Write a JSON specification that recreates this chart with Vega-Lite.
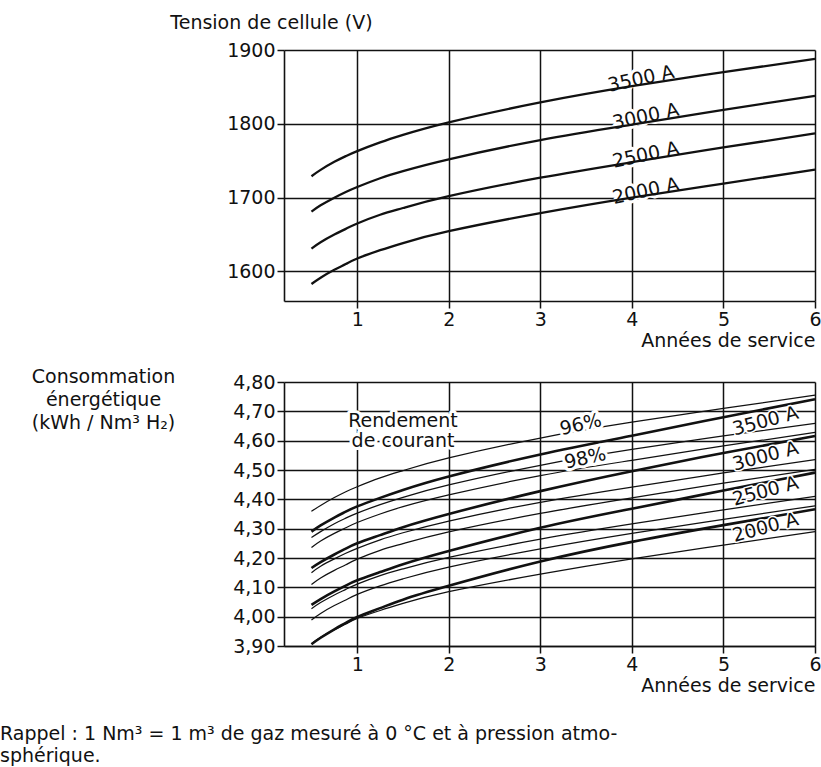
{
  "$schema": "https://vega.github.io/schema/vega-lite/v6.json",
  "background": "white",
  "padding": {"left": 0, "top": 13, "right": 2, "bottom": 0},
  "spacing": 17,
  "config": {
    "font": "DejaVu Sans",
    "view": {"stroke": null},
    "axis": {
      "domainColor": "#111", "domainWidth": 1.6,
      "grid": true, "gridColor": "#111", "gridWidth": 1.5, "gridOpacity": 1,
      "tickColor": "#111", "tickWidth": 1.5, "tickSize": 7,
      "labelFont": "DejaVu Sans", "labelFontSize": 19, "labelColor": "#111", "labelPadding": 2,
      "labelFlush": false, "labelOverlap": false,
      "titleFont": "DejaVu Sans", "titleFontSize": 19, "titleFontWeight": "normal", "titleColor": "#111"
    },
    "text": {"font": "DejaVu Sans", "fontSize": 19}
  },
  "title": {
    "text": ["Rappel : 1 Nm³ = 1 m³ de gaz mesuré à 0 °C et à pression atmo-", "sphérique."],
    "orient": "bottom", "anchor": "start", "frame": "group",
    "fontSize": 19, "fontWeight": "normal", "color": "#111", "font": "DejaVu Sans",
    "offset": 30, "dx": -284, "lineHeight": 22
  },
  "datasets": {
    "tension": [
      {"annee": 0.5, "tension": 1729, "courant": "3500 A"},
      {"annee": 0.6, "tension": 1737.6, "courant": "3500 A"},
      {"annee": 0.75, "tension": 1748.5, "courant": "3500 A"},
      {"annee": 0.875, "tension": 1756.2, "courant": "3500 A"},
      {"annee": 1, "tension": 1763, "courant": "3500 A"},
      {"annee": 1.25, "tension": 1774.8, "courant": "3500 A"},
      {"annee": 1.5, "tension": 1785, "courant": "3500 A"},
      {"annee": 2, "tension": 1802, "courant": "3500 A"},
      {"annee": 3, "tension": 1829, "courant": "3500 A"},
      {"annee": 4, "tension": 1851, "courant": "3500 A"},
      {"annee": 5, "tension": 1870, "courant": "3500 A"},
      {"annee": 6, "tension": 1888, "courant": "3500 A"},
      {"annee": 0.5, "tension": 1681, "courant": "3000 A"},
      {"annee": 0.6, "tension": 1689.6, "courant": "3000 A"},
      {"annee": 0.75, "tension": 1700, "courant": "3000 A"},
      {"annee": 0.875, "tension": 1707.7, "courant": "3000 A"},
      {"annee": 1, "tension": 1714.5, "courant": "3000 A"},
      {"annee": 1.25, "tension": 1726.3, "courant": "3000 A"},
      {"annee": 1.5, "tension": 1736, "courant": "3000 A"},
      {"annee": 2, "tension": 1752, "courant": "3000 A"},
      {"annee": 3, "tension": 1778, "courant": "3000 A"},
      {"annee": 4, "tension": 1799, "courant": "3000 A"},
      {"annee": 5, "tension": 1819, "courant": "3000 A"},
      {"annee": 6, "tension": 1838, "courant": "3000 A"},
      {"annee": 0.5, "tension": 1631, "courant": "2500 A"},
      {"annee": 0.6, "tension": 1639.6, "courant": "2500 A"},
      {"annee": 0.75, "tension": 1650, "courant": "2500 A"},
      {"annee": 0.875, "tension": 1657.7, "courant": "2500 A"},
      {"annee": 1, "tension": 1665, "courant": "2500 A"},
      {"annee": 1.25, "tension": 1676.8, "courant": "2500 A"},
      {"annee": 1.5, "tension": 1686, "courant": "2500 A"},
      {"annee": 2, "tension": 1702, "courant": "2500 A"},
      {"annee": 3, "tension": 1727, "courant": "2500 A"},
      {"annee": 4, "tension": 1748, "courant": "2500 A"},
      {"annee": 5, "tension": 1768, "courant": "2500 A"},
      {"annee": 6, "tension": 1787, "courant": "2500 A"},
      {"annee": 0.5, "tension": 1583, "courant": "2000 A"},
      {"annee": 0.6, "tension": 1591.6, "courant": "2000 A"},
      {"annee": 0.75, "tension": 1602.3, "courant": "2000 A"},
      {"annee": 0.875, "tension": 1610, "courant": "2000 A"},
      {"annee": 1, "tension": 1617.5, "courant": "2000 A"},
      {"annee": 1.25, "tension": 1628.8, "courant": "2000 A"},
      {"annee": 1.5, "tension": 1638.5, "courant": "2000 A"},
      {"annee": 2, "tension": 1654.5, "courant": "2000 A"},
      {"annee": 3, "tension": 1679, "courant": "2000 A"},
      {"annee": 4, "tension": 1700, "courant": "2000 A"},
      {"annee": 5, "tension": 1719, "courant": "2000 A"},
      {"annee": 6, "tension": 1738, "courant": "2000 A"}
    ],
    "etiq_tension": [
      {"annee": 4.1, "tension": 1861, "label": "3500 A"},
      {"annee": 4.15, "tension": 1810, "label": "3000 A"},
      {"annee": 4.15, "tension": 1758, "label": "2500 A"},
      {"annee": 4.15, "tension": 1709, "label": "2000 A"}
    ],
    "conso": [
      {"annee": 0.5, "conso": 4.290, "courant": "3500 A", "rendement": "réel"},
      {"annee": 0.6, "conso": 4.311, "courant": "3500 A", "rendement": "réel"},
      {"annee": 0.75, "conso": 4.338, "courant": "3500 A", "rendement": "réel"},
      {"annee": 0.875, "conso": 4.358, "courant": "3500 A", "rendement": "réel"},
      {"annee": 1, "conso": 4.376, "courant": "3500 A", "rendement": "réel"},
      {"annee": 1.25, "conso": 4.405, "courant": "3500 A", "rendement": "réel"},
      {"annee": 1.5, "conso": 4.432, "courant": "3500 A", "rendement": "réel"},
      {"annee": 2, "conso": 4.478, "courant": "3500 A", "rendement": "réel"},
      {"annee": 3, "conso": 4.553, "courant": "3500 A", "rendement": "réel"},
      {"annee": 4, "conso": 4.617, "courant": "3500 A", "rendement": "réel"},
      {"annee": 5, "conso": 4.680, "courant": "3500 A", "rendement": "réel"},
      {"annee": 6, "conso": 4.741, "courant": "3500 A", "rendement": "réel"},
      {"annee": 0.5, "conso": 4.166, "courant": "3000 A", "rendement": "réel"},
      {"annee": 0.6, "conso": 4.186, "courant": "3000 A", "rendement": "réel"},
      {"annee": 0.75, "conso": 4.212, "courant": "3000 A", "rendement": "réel"},
      {"annee": 0.875, "conso": 4.232, "courant": "3000 A", "rendement": "réel"},
      {"annee": 1, "conso": 4.250, "courant": "3000 A", "rendement": "réel"},
      {"annee": 1.25, "conso": 4.278, "courant": "3000 A", "rendement": "réel"},
      {"annee": 1.5, "conso": 4.305, "courant": "3000 A", "rendement": "réel"},
      {"annee": 2, "conso": 4.350, "courant": "3000 A", "rendement": "réel"},
      {"annee": 3, "conso": 4.428, "courant": "3000 A", "rendement": "réel"},
      {"annee": 4, "conso": 4.496, "courant": "3000 A", "rendement": "réel"},
      {"annee": 5, "conso": 4.558, "courant": "3000 A", "rendement": "réel"},
      {"annee": 6, "conso": 4.616, "courant": "3000 A", "rendement": "réel"},
      {"annee": 0.5, "conso": 4.040, "courant": "2500 A", "rendement": "réel"},
      {"annee": 0.6, "conso": 4.060, "courant": "2500 A", "rendement": "réel"},
      {"annee": 0.75, "conso": 4.086, "courant": "2500 A", "rendement": "réel"},
      {"annee": 0.875, "conso": 4.106, "courant": "2500 A", "rendement": "réel"},
      {"annee": 1, "conso": 4.124, "courant": "2500 A", "rendement": "réel"},
      {"annee": 1.25, "conso": 4.152, "courant": "2500 A", "rendement": "réel"},
      {"annee": 1.5, "conso": 4.179, "courant": "2500 A", "rendement": "réel"},
      {"annee": 2, "conso": 4.224, "courant": "2500 A", "rendement": "réel"},
      {"annee": 3, "conso": 4.303, "courant": "2500 A", "rendement": "réel"},
      {"annee": 4, "conso": 4.368, "courant": "2500 A", "rendement": "réel"},
      {"annee": 5, "conso": 4.430, "courant": "2500 A", "rendement": "réel"},
      {"annee": 6, "conso": 4.491, "courant": "2500 A", "rendement": "réel"},
      {"annee": 0.5, "conso": 3.906, "courant": "2000 A", "rendement": "réel"},
      {"annee": 0.6, "conso": 3.928, "courant": "2000 A", "rendement": "réel"},
      {"annee": 0.75, "conso": 3.957, "courant": "2000 A", "rendement": "réel"},
      {"annee": 0.875, "conso": 3.979, "courant": "2000 A", "rendement": "réel"},
      {"annee": 1, "conso": 3.999, "courant": "2000 A", "rendement": "réel"},
      {"annee": 1.25, "conso": 4.029, "courant": "2000 A", "rendement": "réel"},
      {"annee": 1.5, "conso": 4.058, "courant": "2000 A", "rendement": "réel"},
      {"annee": 2, "conso": 4.105, "courant": "2000 A", "rendement": "réel"},
      {"annee": 3, "conso": 4.188, "courant": "2000 A", "rendement": "réel"},
      {"annee": 4, "conso": 4.255, "courant": "2000 A", "rendement": "réel"},
      {"annee": 5, "conso": 4.312, "courant": "2000 A", "rendement": "réel"},
      {"annee": 6, "conso": 4.366, "courant": "2000 A", "rendement": "réel"},
      {"annee": 0.5, "conso": 4.359, "courant": "3500 A", "rendement": "96%"},
      {"annee": 0.6, "conso": 4.379, "courant": "3500 A", "rendement": "96%"},
      {"annee": 0.75, "conso": 4.406, "courant": "3500 A", "rendement": "96%"},
      {"annee": 0.875, "conso": 4.426, "courant": "3500 A", "rendement": "96%"},
      {"annee": 1, "conso": 4.443, "courant": "3500 A", "rendement": "96%"},
      {"annee": 1.25, "conso": 4.473, "courant": "3500 A", "rendement": "96%"},
      {"annee": 1.5, "conso": 4.498, "courant": "3500 A", "rendement": "96%"},
      {"annee": 2, "conso": 4.541, "courant": "3500 A", "rendement": "96%"},
      {"annee": 3, "conso": 4.609, "courant": "3500 A", "rendement": "96%"},
      {"annee": 4, "conso": 4.663, "courant": "3500 A", "rendement": "96%"},
      {"annee": 5, "conso": 4.710, "courant": "3500 A", "rendement": "96%"},
      {"annee": 6, "conso": 4.755, "courant": "3500 A", "rendement": "96%"},
      {"annee": 0.5, "conso": 4.236, "courant": "3000 A", "rendement": "96%"},
      {"annee": 0.6, "conso": 4.258, "courant": "3000 A", "rendement": "96%"},
      {"annee": 0.75, "conso": 4.284, "courant": "3000 A", "rendement": "96%"},
      {"annee": 0.875, "conso": 4.303, "courant": "3000 A", "rendement": "96%"},
      {"annee": 1, "conso": 4.321, "courant": "3000 A", "rendement": "96%"},
      {"annee": 1.25, "conso": 4.350, "courant": "3000 A", "rendement": "96%"},
      {"annee": 1.5, "conso": 4.375, "courant": "3000 A", "rendement": "96%"},
      {"annee": 2, "conso": 4.415, "courant": "3000 A", "rendement": "96%"},
      {"annee": 3, "conso": 4.481, "courant": "3000 A", "rendement": "96%"},
      {"annee": 4, "conso": 4.533, "courant": "3000 A", "rendement": "96%"},
      {"annee": 5, "conso": 4.582, "courant": "3000 A", "rendement": "96%"},
      {"annee": 6, "conso": 4.628, "courant": "3000 A", "rendement": "96%"},
      {"annee": 0.5, "conso": 4.110, "courant": "2500 A", "rendement": "96%"},
      {"annee": 0.6, "conso": 4.132, "courant": "2500 A", "rendement": "96%"},
      {"annee": 0.75, "conso": 4.158, "courant": "2500 A", "rendement": "96%"},
      {"annee": 0.875, "conso": 4.177, "courant": "2500 A", "rendement": "96%"},
      {"annee": 1, "conso": 4.196, "courant": "2500 A", "rendement": "96%"},
      {"annee": 1.25, "conso": 4.226, "courant": "2500 A", "rendement": "96%"},
      {"annee": 1.5, "conso": 4.249, "courant": "2500 A", "rendement": "96%"},
      {"annee": 2, "conso": 4.289, "courant": "2500 A", "rendement": "96%"},
      {"annee": 3, "conso": 4.352, "courant": "2500 A", "rendement": "96%"},
      {"annee": 4, "conso": 4.405, "courant": "2500 A", "rendement": "96%"},
      {"annee": 5, "conso": 4.455, "courant": "2500 A", "rendement": "96%"},
      {"annee": 6, "conso": 4.502, "courant": "2500 A", "rendement": "96%"},
      {"annee": 0.5, "conso": 3.989, "courant": "2000 A", "rendement": "96%"},
      {"annee": 0.6, "conso": 4.011, "courant": "2000 A", "rendement": "96%"},
      {"annee": 0.75, "conso": 4.038, "courant": "2000 A", "rendement": "96%"},
      {"annee": 0.875, "conso": 4.057, "courant": "2000 A", "rendement": "96%"},
      {"annee": 1, "conso": 4.076, "courant": "2000 A", "rendement": "96%"},
      {"annee": 1.25, "conso": 4.105, "courant": "2000 A", "rendement": "96%"},
      {"annee": 1.5, "conso": 4.129, "courant": "2000 A", "rendement": "96%"},
      {"annee": 2, "conso": 4.169, "courant": "2000 A", "rendement": "96%"},
      {"annee": 3, "conso": 4.231, "courant": "2000 A", "rendement": "96%"},
      {"annee": 4, "conso": 4.284, "courant": "2000 A", "rendement": "96%"},
      {"annee": 5, "conso": 4.332, "courant": "2000 A", "rendement": "96%"},
      {"annee": 6, "conso": 4.378, "courant": "2000 A", "rendement": "96%"},
      {"annee": 0.5, "conso": 4.270, "courant": "3500 A", "rendement": "98%"},
      {"annee": 0.6, "conso": 4.290, "courant": "3500 A", "rendement": "98%"},
      {"annee": 0.75, "conso": 4.317, "courant": "3500 A", "rendement": "98%"},
      {"annee": 0.875, "conso": 4.336, "courant": "3500 A", "rendement": "98%"},
      {"annee": 1, "conso": 4.353, "courant": "3500 A", "rendement": "98%"},
      {"annee": 1.25, "conso": 4.382, "courant": "3500 A", "rendement": "98%"},
      {"annee": 1.5, "conso": 4.407, "courant": "3500 A", "rendement": "98%"},
      {"annee": 2, "conso": 4.449, "courant": "3500 A", "rendement": "98%"},
      {"annee": 3, "conso": 4.516, "courant": "3500 A", "rendement": "98%"},
      {"annee": 4, "conso": 4.570, "courant": "3500 A", "rendement": "98%"},
      {"annee": 5, "conso": 4.616, "courant": "3500 A", "rendement": "98%"},
      {"annee": 6, "conso": 4.659, "courant": "3500 A", "rendement": "98%"},
      {"annee": 0.5, "conso": 4.150, "courant": "3000 A", "rendement": "98%"},
      {"annee": 0.6, "conso": 4.172, "courant": "3000 A", "rendement": "98%"},
      {"annee": 0.75, "conso": 4.197, "courant": "3000 A", "rendement": "98%"},
      {"annee": 0.875, "conso": 4.216, "courant": "3000 A", "rendement": "98%"},
      {"annee": 1, "conso": 4.233, "courant": "3000 A", "rendement": "98%"},
      {"annee": 1.25, "conso": 4.262, "courant": "3000 A", "rendement": "98%"},
      {"annee": 1.5, "conso": 4.286, "courant": "3000 A", "rendement": "98%"},
      {"annee": 2, "conso": 4.326, "courant": "3000 A", "rendement": "98%"},
      {"annee": 3, "conso": 4.390, "courant": "3000 A", "rendement": "98%"},
      {"annee": 4, "conso": 4.442, "courant": "3000 A", "rendement": "98%"},
      {"annee": 5, "conso": 4.490, "courant": "3000 A", "rendement": "98%"},
      {"annee": 6, "conso": 4.535, "courant": "3000 A", "rendement": "98%"},
      {"annee": 0.5, "conso": 4.027, "courant": "2500 A", "rendement": "98%"},
      {"annee": 0.6, "conso": 4.048, "courant": "2500 A", "rendement": "98%"},
      {"annee": 0.75, "conso": 4.074, "courant": "2500 A", "rendement": "98%"},
      {"annee": 0.875, "conso": 4.093, "courant": "2500 A", "rendement": "98%"},
      {"annee": 1, "conso": 4.111, "courant": "2500 A", "rendement": "98%"},
      {"annee": 1.25, "conso": 4.140, "courant": "2500 A", "rendement": "98%"},
      {"annee": 1.5, "conso": 4.163, "courant": "2500 A", "rendement": "98%"},
      {"annee": 2, "conso": 4.202, "courant": "2500 A", "rendement": "98%"},
      {"annee": 3, "conso": 4.264, "courant": "2500 A", "rendement": "98%"},
      {"annee": 4, "conso": 4.316, "courant": "2500 A", "rendement": "98%"},
      {"annee": 5, "conso": 4.364, "courant": "2500 A", "rendement": "98%"},
      {"annee": 6, "conso": 4.410, "courant": "2500 A", "rendement": "98%"},
      {"annee": 0.5, "conso": 3.908, "courant": "2000 A", "rendement": "98%"},
      {"annee": 0.6, "conso": 3.930, "courant": "2000 A", "rendement": "98%"},
      {"annee": 0.75, "conso": 3.956, "courant": "2000 A", "rendement": "98%"},
      {"annee": 0.875, "conso": 3.975, "courant": "2000 A", "rendement": "98%"},
      {"annee": 1, "conso": 3.994, "courant": "2000 A", "rendement": "98%"},
      {"annee": 1.25, "conso": 4.021, "courant": "2000 A", "rendement": "98%"},
      {"annee": 1.5, "conso": 4.045, "courant": "2000 A", "rendement": "98%"},
      {"annee": 2, "conso": 4.085, "courant": "2000 A", "rendement": "98%"},
      {"annee": 3, "conso": 4.145, "courant": "2000 A", "rendement": "98%"},
      {"annee": 4, "conso": 4.197, "courant": "2000 A", "rendement": "98%"},
      {"annee": 5, "conso": 4.244, "courant": "2000 A", "rendement": "98%"},
      {"annee": 6, "conso": 4.290, "courant": "2000 A", "rendement": "98%"}
    ],
    "etiq_rendement": [
      {"annee": 1.5, "conso": 4.668, "label": "Rendement"},
      {"annee": 1.5, "conso": 4.600, "label": "de courant"}
    ],
    "etiq_pct": [
      {"annee": 3.44, "conso": 4.655, "label": "96%"},
      {"annee": 3.49, "conso": 4.540, "label": "98%"}
    ],
    "etiq_courant": [
      {"annee": 5.46, "conso": 4.667, "label": "3500 A"},
      {"annee": 5.46, "conso": 4.547, "label": "3000 A"},
      {"annee": 5.46, "conso": 4.428, "label": "2500 A"},
      {"annee": 5.46, "conso": 4.304, "label": "2000 A"}
    ]
  },
  "vconcat": [
    {
      "width": 531,
      "height": 251,
      "encoding": {
        "x": {
          "field": "annee", "type": "quantitative",
          "scale": {"domain": [0.2, 6], "nice": false, "zero": false},
          "axis": {"values": [1, 2, 3, 4, 5, 6], "format": "d", "title": "Années de service", "titleAnchor": "end", "titlePadding": 2}
        },
        "y": {
          "field": "tension", "type": "quantitative",
          "scale": {"domain": [1560, 1900], "nice": false, "zero": false},
          "axis": {"values": [1600, 1700, 1800, 1900], "format": "d", "title": "Tension de cellule (V)", "titleAngle": 0, "titleAlign": "center", "titleBaseline": "middle", "titleX": -13, "titleY": -28}
        }
      },
      "layer": [
        {
          "data": {"name": "etiq_tension"},
          "mark": {"type": "text", "angle": 348, "color": "white", "stroke": "white", "strokeWidth": 6, "strokeJoin": "round"},
          "encoding": {"text": {"field": "label"}}
        },
        {
          "data": {"name": "tension"},
          "mark": {"type": "line", "color": "#111", "strokeWidth": 2.3, "interpolate": "natural"},
          "encoding": {"detail": {"field": "courant"}}
        },
        {
          "data": {"name": "etiq_tension"},
          "mark": {"type": "text", "angle": 348, "color": "#111"},
          "encoding": {"text": {"field": "label"}}
        }
      ]
    },
    {
      "width": 531,
      "height": 264,
      "encoding": {
        "x": {
          "field": "annee", "type": "quantitative",
          "scale": {"domain": [0.2, 6], "nice": false, "zero": false},
          "axis": {"values": [1, 2, 3, 4, 5, 6], "format": "d", "title": "Années de service", "titleAnchor": "end", "titlePadding": 2}
        },
        "y": {
          "field": "conso", "type": "quantitative",
          "scale": {"domain": [3.9, 4.8], "nice": false, "zero": false},
          "axis": {
            "values": [3.9, 4.0, 4.1, 4.2, 4.3, 4.4, 4.5, 4.6, 4.7, 4.8],
            "labelExpr": "replace(format(datum.value, '.2f'), '.', ',')",
            "title": ["Consommation", "énergétique", "(kWh / Nm³ H₂)"],
            "titleAngle": 0, "titleAlign": "center", "titleBaseline": "top",
            "titleX": -181, "titleY": -15, "titleLineHeight": 23
          }
        }
      },
      "layer": [
        {
          "data": {"name": "conso"},
          "transform": [{"filter": "datum.rendement !== 'réel'"}],
          "mark": {"type": "line", "color": "#111", "strokeWidth": 1.25, "interpolate": "natural"},
          "encoding": {"detail": [{"field": "courant"}, {"field": "rendement"}]}
        },
        {
          "data": {"name": "conso"},
          "transform": [{"filter": "datum.rendement === 'réel'"}],
          "mark": {"type": "line", "color": "#111", "strokeWidth": 2.6, "interpolate": "natural"},
          "encoding": {"detail": {"field": "courant"}}
        },
        {
          "data": {"name": "etiq_rendement"},
          "mark": {"type": "text", "color": "white", "stroke": "white", "strokeWidth": 6, "strokeJoin": "round"},
          "encoding": {"text": {"field": "label"}}
        },
        {
          "data": {"name": "etiq_pct"},
          "mark": {"type": "text", "angle": 347, "color": "white", "stroke": "white", "strokeWidth": 6, "strokeJoin": "round"},
          "encoding": {"text": {"field": "label"}}
        },
        {
          "data": {"name": "etiq_courant"},
          "mark": {"type": "text", "angle": 345, "color": "white", "stroke": "white", "strokeWidth": 3, "strokeJoin": "round"},
          "encoding": {"text": {"field": "label"}}
        },
        {
          "data": {"name": "etiq_rendement"},
          "mark": {"type": "text", "color": "#111"},
          "encoding": {"text": {"field": "label"}}
        },
        {
          "data": {"name": "etiq_pct"},
          "mark": {"type": "text", "angle": 347, "color": "#111"},
          "encoding": {"text": {"field": "label"}}
        },
        {
          "data": {"name": "etiq_courant"},
          "mark": {"type": "text", "angle": 345, "color": "#111"},
          "encoding": {"text": {"field": "label"}}
        }
      ]
    }
  ]
}
